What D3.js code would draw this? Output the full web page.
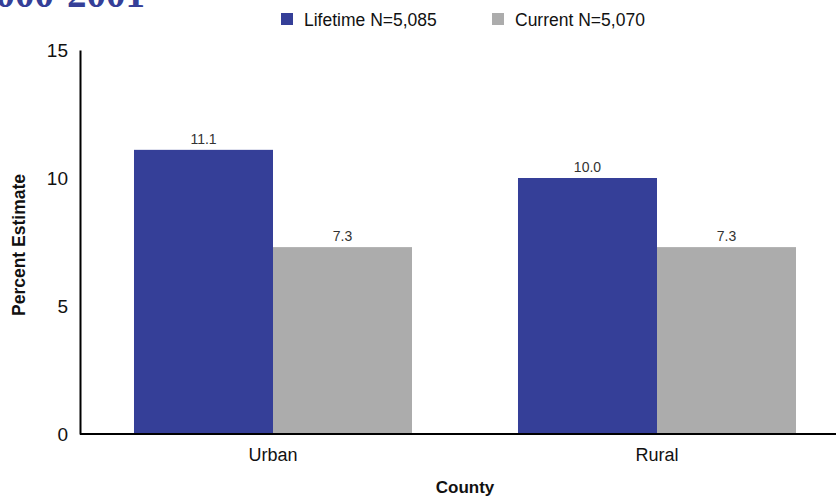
<!DOCTYPE html>
<meta charset="utf-8">
<style>
body { margin: 0; background: #fff; }
text { font-family: "Liberation Sans", Arial, sans-serif; }
</style>
<svg width="836" height="499"></svg>
<script src="https://d3js.org/d3.v7.min.js"></script>
<script>
// data
var counties = ["Urban", "Rural"];
var seriesNames = ["Lifetime N=5,085", "Current N=5,070"];
var lifetime = [11.1, 10.0];
var current = [7.3, 7.3];
var yTicks = [0, 5, 10, 15];
var colours = ["#353f98", "#acacac"];

var svg = d3.select("svg");

// title, cut off at the top of the picture (as in the reference)
svg.append("text")
  .attr("x", -24).attr("y", 7)
  .style("font-family", "'Liberation Serif', 'DejaVu Serif', serif")
  .style("font-weight", "bold")
  .style("font-size", "39px")
  .attr("fill", "#353f98")
  .text("2000-2001");

var x = d3.scaleBand().domain(counties).range([81, 849])
  .paddingInner(0.276).paddingOuter(0.138);
var x1 = d3.scaleBand().domain([0, 1]).range([0, x.bandwidth()]);
var y = d3.scaleLinear().domain([0, 15]).range([434, 50]);

var rows = counties.map(function(c, i) { return { county: c, vals: [lifetime[i], current[i]] }; });

var groups = svg.append("g").selectAll("g")
  .data(rows).enter().append("g")
  .attr("transform", function(d) { return "translate(" + x(d.county) + ",0)"; });

groups.selectAll("rect")
  .data(function(d) { return d.vals; })
  .enter().append("rect")
  .attr("x", function(d, i) { return x1(i); })
  .attr("y", function(d) { return y(d); })
  .attr("width", x1.bandwidth())
  .attr("height", function(d) { return y(0) - y(d); })
  .attr("fill", function(d, i) { return colours[i]; });

groups.selectAll("text.val")
  .data(function(d) { return d.vals; })
  .enter().append("text")
  .attr("class", "val")
  .attr("x", function(d, i) { return x1(i) + x1.bandwidth() / 2; })
  .attr("y", function(d) { return y(d) - 6; })
  .attr("text-anchor", "middle")
  .style("font-size", "14px")
  .attr("fill", "#333")
  .text(function(d) { return d.toFixed(1); });

// y axis
var yAxis = svg.append("g")
  .attr("transform", "translate(80,0)")
  .call(d3.axisLeft(y).tickValues(yTicks).tickSize(0).tickPadding(12));
yAxis.select(".domain").attr("stroke", "#000").attr("stroke-width", 2);
yAxis.selectAll("text").style("font-size", "19px").attr("fill", "#111")
  .style("font-family", "'Liberation Sans', Arial, sans-serif");

// x axis
var xAxis = svg.append("g")
  .attr("transform", "translate(0,434)")
  .call(d3.axisBottom(x).tickSize(0).tickPadding(14));
xAxis.select(".domain").attr("d", "M80,0H836").attr("stroke", "#000").attr("stroke-width", 2);
xAxis.selectAll("text").style("font-size", "18px").attr("fill", "#111")
  .style("font-family", "'Liberation Sans', Arial, sans-serif");

svg.append("text")
  .attr("x", 465).attr("y", 493)
  .attr("text-anchor", "middle")
  .style("font-size", "17px").style("font-weight", "bold")
  .attr("fill", "#111")
  .text("County");

svg.append("text")
  .attr("transform", "translate(25,245) rotate(-90)")
  .attr("text-anchor", "middle")
  .style("font-size", "17.5px").style("font-weight", "bold")
  .attr("fill", "#111")
  .text("Percent Estimate");

// legend
var legX = [281, 492];
var legend = svg.append("g").selectAll("g")
  .data(seriesNames).enter().append("g")
  .attr("transform", function(d, i) { return "translate(" + legX[i] + ",13)"; });
legend.append("rect").attr("width", 12).attr("height", 12)
  .attr("fill", function(d, i) { return colours[i]; });
legend.append("text").attr("x", 23).attr("y", 12.5)
  .style("font-size", "17.5px").attr("fill", "#111")
  .text(function(d) { return d; });
</script>
